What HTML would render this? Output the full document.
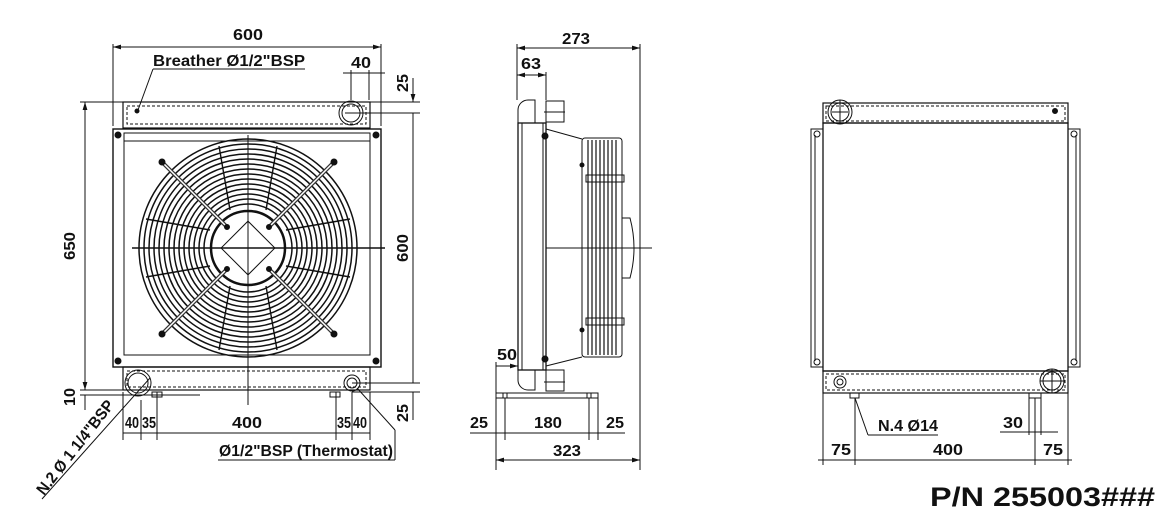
<!DOCTYPE html>
<html><head><meta charset="utf-8"><style>
html,body{margin:0;padding:0;background:#fff;}
svg{display:block;}
text{font-family:"Liberation Sans",Arial,sans-serif;font-weight:bold;fill:#111;}
</style></head><body>
<svg width="1171" height="517" viewBox="0 0 1171 517" xmlns="http://www.w3.org/2000/svg">
<defs>
<marker id="a" viewBox="0 0 10 6" refX="10" refY="3" markerWidth="8" markerHeight="5" orient="auto-start-reverse"><path d="M0,0L10,3L0,6z" fill="#111"/></marker>
</defs>
<g stroke="#111" fill="none" stroke-width="1">
<!-- ===== FRONT VIEW ===== -->
<rect x="113" y="129" width="268" height="238" stroke-width="1.4"/>
<rect x="124" y="133" width="246" height="222"/>
<line x1="124" y1="141" x2="370" y2="141"/>
<line x1="124" y1="355" x2="370" y2="355"/>
<rect x="123" y="102" width="247" height="26" stroke-width="1.2"/>
<rect x="127" y="106" width="239" height="18" stroke-dasharray="3,2"/>
<rect x="123" y="367" width="247" height="23" stroke-width="1.2"/>
<rect x="127" y="371" width="239" height="16" stroke-dasharray="3,2"/>
<circle cx="351" cy="113" r="12"/><circle cx="351" cy="113" r="9"/>
<circle cx="138" cy="383" r="13"/><circle cx="138" cy="383" r="10"/>
<circle cx="352" cy="383" r="8"/><circle cx="352" cy="383" r="5"/>
<circle cx="137" cy="111" r="2" fill="#111"/>
<g fill="#111"><circle cx="118" cy="135" r="3"/><circle cx="376" cy="135" r="3"/><circle cx="118" cy="361" r="3"/><circle cx="376" cy="361" r="3"/></g>
<!-- fan -->
<g stroke-width="1.5">
<circle cx="248" cy="248" r="109"/><circle cx="248" cy="248" r="104"/><circle cx="248" cy="248" r="99"/><circle cx="248" cy="248" r="94"/><circle cx="248" cy="248" r="89"/><circle cx="248" cy="248" r="84"/><circle cx="248" cy="248" r="79"/><circle cx="248" cy="248" r="74"/><circle cx="248" cy="248" r="69"/><circle cx="248" cy="248" r="64"/><circle cx="248" cy="248" r="59"/><circle cx="248" cy="248" r="54"/><circle cx="248" cy="248" r="49"/><circle cx="248" cy="248" r="44"/><circle cx="248" cy="248" r="37" stroke-width="2.5"/>
</g>
<rect x="229" y="229" width="38" height="38" transform="rotate(45 248 248)" fill="#fff"/>
<g stroke-width="4" stroke="#333">
<line x1="163" y1="163" x2="228" y2="228"/><line x1="333" y1="163" x2="268" y2="228"/>
<line x1="163" y1="333" x2="228" y2="268"/><line x1="333" y1="333" x2="268" y2="268"/>
</g>
<g stroke="#fff" stroke-width="1.5">
<line x1="163" y1="163" x2="228" y2="228"/><line x1="333" y1="163" x2="268" y2="228"/>
<line x1="163" y1="333" x2="228" y2="268"/><line x1="333" y1="333" x2="268" y2="268"/>
</g>
<g fill="#111"><circle cx="162" cy="162" r="3"/><circle cx="334" cy="162" r="3"/><circle cx="162" cy="334" r="3"/><circle cx="334" cy="334" r="3"/><circle cx="227" cy="227" r="2.5"/><circle cx="269" cy="227" r="2.5"/><circle cx="227" cy="269" r="2.5"/><circle cx="269" cy="269" r="2.5"/></g>
<g stroke-width="1.4">
<line x1="219" y1="146" x2="230" y2="210"/><line x1="277" y1="146" x2="266" y2="210"/>
<line x1="219" y1="350" x2="230" y2="286"/><line x1="277" y1="350" x2="266" y2="286"/>
<line x1="146" y1="219" x2="210" y2="230"/><line x1="146" y1="277" x2="210" y2="266"/>
<line x1="350" y1="219" x2="286" y2="230"/><line x1="350" y1="277" x2="286" y2="266"/>
</g>
<line x1="132" y1="248" x2="385" y2="248" stroke-width="1.5"/>
<line x1="248" y1="135" x2="248" y2="405"/>
<!-- front dims -->
<line x1="113" y1="44" x2="113" y2="126"/><line x1="381" y1="44" x2="381" y2="126"/>
<line x1="113" y1="47" x2="381" y2="47" marker-start="url(#a)" marker-end="url(#a)"/>
<line x1="153" y1="69" x2="305" y2="69"/><line x1="153" y1="69" x2="138" y2="110"/>
<line x1="351" y1="70" x2="351" y2="100"/><line x1="369" y1="70" x2="369" y2="100"/>
<line x1="343" y1="73" x2="385" y2="73"/>
<line x1="80" y1="102" x2="420" y2="102"/>
<line x1="345" y1="113" x2="420" y2="113"/>
<line x1="413" y1="78" x2="413" y2="102" marker-end="url(#a)"/>
<line x1="413" y1="113" x2="413" y2="383"/>
<line x1="85" y1="102" x2="85" y2="390" marker-start="url(#a)" marker-end="url(#a)"/>
<line x1="80" y1="390" x2="128" y2="390"/><line x1="80" y1="395" x2="200" y2="395"/>
<line x1="85" y1="395" x2="85" y2="410"/>
<line x1="352" y1="383" x2="420" y2="383"/><line x1="352" y1="392" x2="420" y2="392"/>
<line x1="413" y1="392" x2="413" y2="420"/>
<line x1="123" y1="392" x2="123" y2="440"/><line x1="157" y1="392" x2="157" y2="440"/><line x1="370" y1="392" x2="370" y2="440"/><line x1="336" y1="392" x2="336" y2="440"/><line x1="352" y1="392" x2="352" y2="440"/><line x1="141" y1="400" x2="141" y2="440"/>
<rect x="152" y="392" width="10" height="5"/><rect x="330" y="392" width="10" height="5"/>
<line x1="123" y1="433" x2="370" y2="433"/>
<line x1="218" y1="460" x2="395" y2="460"/><line x1="395" y1="460" x2="395" y2="430"/><line x1="395" y1="430" x2="357" y2="388"/>
<line x1="42" y1="499" x2="150" y2="378"/>
<!-- ===== SIDE VIEW ===== -->
<rect x="518" y="123" width="28" height="247" stroke-width="1.3"/>
<line x1="522" y1="123" x2="522" y2="370"/><line x1="543" y1="123" x2="543" y2="370"/>
<path d="M518,123 V110 a10,10 0 0 1 10,-10 h7 V123"/>
<path d="M518,370 V380 a10,10 0 0 0 10,10 h7 V370"/>
<rect x="546" y="101" width="18" height="21"/><rect x="546" y="370" width="18" height="21"/>
<line x1="544" y1="112" x2="565" y2="112"/><line x1="544" y1="382" x2="565" y2="382"/>
<path d="M546,129 L582,139 M546,366 L582,357"/>
<rect x="582" y="138" width="40" height="219" rx="3"/>
<rect x="586" y="175" width="38" height="7"/><rect x="586" y="318" width="38" height="7"/>
<g stroke-width="1.2">
<line x1="588" y1="140" x2="588" y2="355"/><line x1="592" y1="140" x2="592" y2="355"/><line x1="596" y1="140" x2="596" y2="355"/><line x1="600" y1="140" x2="600" y2="355"/><line x1="604" y1="140" x2="604" y2="355"/><line x1="608" y1="140" x2="608" y2="355"/><line x1="612" y1="140" x2="612" y2="355"/><line x1="616" y1="140" x2="616" y2="355"/>
</g>
<path d="M622,218 h8 q8,30 0,60 h-8"/>
<line x1="546" y1="248" x2="652" y2="248"/>
<g fill="#111"><circle cx="545" cy="136" r="3"/><circle cx="545" cy="359" r="3"/><circle cx="582" cy="165" r="2"/><circle cx="582" cy="330" r="2"/></g>
<rect x="496" y="393" width="102" height="5"/>
<rect x="503" y="393" width="4" height="5"/><rect x="587" y="393" width="4" height="5"/>
<line x1="517" y1="44" x2="517" y2="100"/><line x1="640" y1="44" x2="640" y2="470"/>
<line x1="517" y1="48" x2="640" y2="48" marker-start="url(#a)" marker-end="url(#a)"/>
<line x1="546" y1="72" x2="546" y2="100"/>
<line x1="517" y1="75" x2="546" y2="75" marker-start="url(#a)" marker-end="url(#a)"/>
<line x1="496" y1="366" x2="518" y2="366" marker-end="url(#a)"/>
<line x1="496" y1="362" x2="496" y2="470"/><line x1="505" y1="398" x2="505" y2="440"/><line x1="589" y1="398" x2="589" y2="440"/><line x1="598" y1="398" x2="598" y2="440"/>
<line x1="470" y1="433" x2="625" y2="433"/>
<line x1="496" y1="460" x2="640" y2="460" marker-start="url(#a)" marker-end="url(#a)"/>
<!-- ===== REAR VIEW ===== -->
<rect x="823" y="123" width="245" height="248" stroke-width="1.3"/>
<rect x="823" y="103" width="245" height="20" stroke-width="1.2"/>
<rect x="826" y="106" width="239" height="15" stroke-dasharray="3,2"/>
<rect x="823" y="371" width="245" height="22" stroke-width="1.2"/>
<rect x="826" y="374" width="239" height="16" stroke-dasharray="3,2"/>
<rect x="811" y="129" width="12" height="238"/><line x1="815" y1="135" x2="815" y2="361"/>
<rect x="1068" y="129" width="12" height="238"/><line x1="1076" y1="135" x2="1076" y2="361"/>
<circle cx="817" cy="134" r="3"/><circle cx="817" cy="362" r="3"/><circle cx="1074" cy="134" r="3"/><circle cx="1074" cy="362" r="3"/>
<circle cx="840" cy="112" r="12"/><circle cx="840" cy="112" r="9"/>
<circle cx="1055" cy="111" r="2.5" fill="#111"/>
<circle cx="840" cy="382" r="6"/><circle cx="840" cy="382" r="3"/>
<circle cx="1052" cy="381" r="12"/><circle cx="1052" cy="381" r="9"/>
<line x1="832" y1="112" x2="848" y2="112"/><line x1="840" y1="100" x2="840" y2="124"/>
<line x1="1040" y1="381" x2="1064" y2="381"/><line x1="1052" y1="369" x2="1052" y2="393"/>
<rect x="850" y="393" width="9" height="5"/><rect x="1029" y="393" width="12" height="5"/>
<line x1="823" y1="393" x2="823" y2="465"/><line x1="855" y1="398" x2="855" y2="465"/><line x1="1035" y1="398" x2="1035" y2="465"/><line x1="1068" y1="393" x2="1068" y2="465"/>
<line x1="1029" y1="398" x2="1029" y2="435"/><line x1="1041" y1="398" x2="1041" y2="435"/>
<line x1="1000" y1="432" x2="1058" y2="432"/>
<line x1="855" y1="398" x2="868" y2="435"/><line x1="868" y1="435" x2="938" y2="435"/>
<line x1="818" y1="460" x2="1072" y2="460"/>
</g>
<g font-size="16">
<text x="233" y="40" textLength="30" lengthAdjust="spacingAndGlyphs">600</text>
<text x="153" y="66" textLength="152" lengthAdjust="spacingAndGlyphs">Breather Ø1/2"BSP</text>
<text x="351" y="68" textLength="20" lengthAdjust="spacingAndGlyphs">40</text>
<text transform="translate(408,92) rotate(-90)" textLength="18" lengthAdjust="spacingAndGlyphs">25</text>
<text transform="translate(75,260) rotate(-90)" textLength="28" lengthAdjust="spacingAndGlyphs">650</text>
<text transform="translate(408,262) rotate(-90)" textLength="28" lengthAdjust="spacingAndGlyphs">600</text>
<text transform="translate(75,406) rotate(-90)" textLength="18" lengthAdjust="spacingAndGlyphs">10</text>
<text transform="translate(408,422) rotate(-90)" textLength="18" lengthAdjust="spacingAndGlyphs">25</text>
<text x="125" y="428" textLength="14" lengthAdjust="spacingAndGlyphs">40</text>
<text x="142" y="428" textLength="14" lengthAdjust="spacingAndGlyphs">35</text>
<text x="232" y="428" textLength="30" lengthAdjust="spacingAndGlyphs">400</text>
<text x="337" y="428" textLength="14" lengthAdjust="spacingAndGlyphs">35</text>
<text x="353" y="428" textLength="14" lengthAdjust="spacingAndGlyphs">40</text>
<text x="219" y="456" textLength="174" lengthAdjust="spacingAndGlyphs">Ø1/2"BSP (Thermostat)</text>
<text transform="translate(44,496) rotate(-52)" textLength="115" lengthAdjust="spacingAndGlyphs">N.2 Ø 1 1/4"BSP</text>
<text x="562" y="44" textLength="28" lengthAdjust="spacingAndGlyphs">273</text>
<text x="521" y="69" textLength="20" lengthAdjust="spacingAndGlyphs">63</text>
<text x="497" y="360" textLength="20" lengthAdjust="spacingAndGlyphs">50</text>
<text x="470" y="428" textLength="18" lengthAdjust="spacingAndGlyphs">25</text>
<text x="534" y="428" textLength="28" lengthAdjust="spacingAndGlyphs">180</text>
<text x="606" y="428" textLength="18" lengthAdjust="spacingAndGlyphs">25</text>
<text x="553" y="456" textLength="28" lengthAdjust="spacingAndGlyphs">323</text>
<text x="878" y="431" textLength="60" lengthAdjust="spacingAndGlyphs">N.4 Ø14</text>
<text x="1003" y="428" textLength="20" lengthAdjust="spacingAndGlyphs">30</text>
<text x="831" y="455" textLength="20" lengthAdjust="spacingAndGlyphs">75</text>
<text x="933" y="455" textLength="30" lengthAdjust="spacingAndGlyphs">400</text>
<text x="1043" y="455" textLength="20" lengthAdjust="spacingAndGlyphs">75</text>
</g>
<text x="930" y="506" font-size="27" textLength="225" lengthAdjust="spacingAndGlyphs">P/N 255003###</text>
</svg>
</body></html>
